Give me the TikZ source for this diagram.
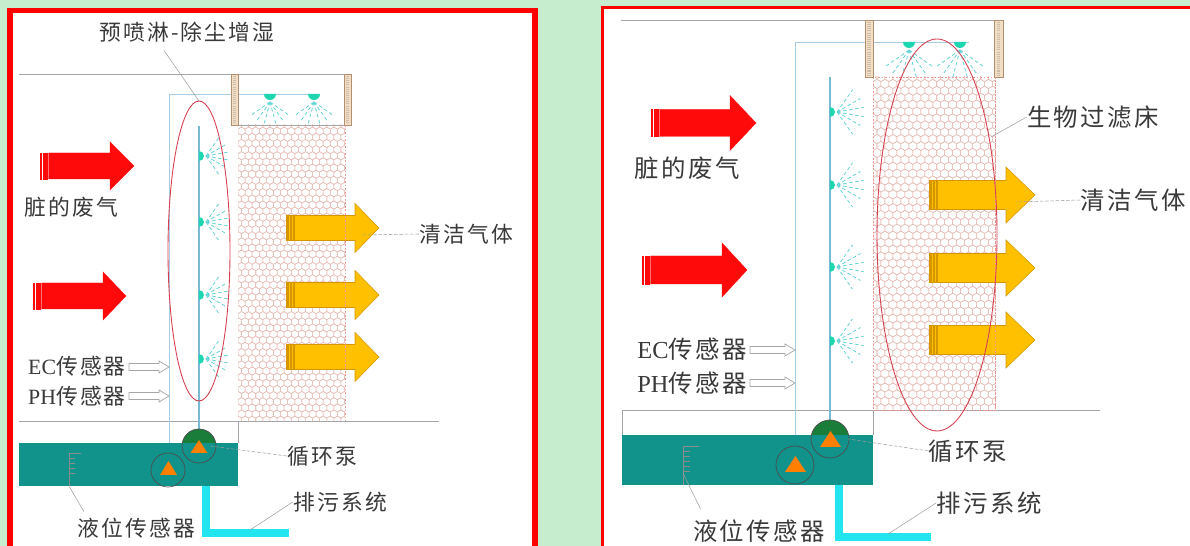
\documentclass[tikz,border=0pt]{standalone}
\usepackage{fontspec}
\setmainfont{Liberation Serif}
\newfontfamily\cjk{Noto Sans CJK SC}[LetterSpace=10]
\usepackage{xcolor}
\usepackage{tikz}
\usetikzlibrary{arrows.meta, positioning, calc}

\definecolor{pagegreen}{RGB}{198, 238, 206}
\definecolor{framered}{RGB}{255, 0, 0}
\definecolor{wallgray}{RGB}{165, 165, 165}
\definecolor{ductblue}{RGB}{170, 204, 226}
\definecolor{pipeblue}{RGB}{120, 186, 214}
\definecolor{nozzleteal}{RGB}{30, 214, 176}
\definecolor{spraycyan}{RGB}{100, 210, 214}
\definecolor{tankteal}{RGB}{17, 146, 138}
\definecolor{draincyan}{RGB}{34, 229, 240}
\definecolor{pumpgreen}{RGB}{27, 125, 58}
\definecolor{pumporange}{RGB}{255, 128, 0}
\definecolor{dirtyred}{RGB}{255, 10, 10}
\definecolor{cleanyellow}{RGB}{255, 192, 0}
\definecolor{cleanedge}{RGB}{214, 150, 0}
\definecolor{cellpink}{RGB}{232, 190, 182}
\definecolor{postbeige}{RGB}{242, 222, 196}
\definecolor{postbrown}{RGB}{176, 144, 112}
\definecolor{ringred}{RGB}{214, 64, 80}
\definecolor{labelgray}{RGB}{58, 58, 58}

\tikzset{
  lbl/.style={text=labelgray, inner sep=0pt, font=\cjk\fontsize{12.4}{14}\selectfont},
  lblbig/.style={text=labelgray, inner sep=0pt, font=\cjk\fontsize{13.9}{16}\selectfont},
  leader/.style={draw=gray!75, line width=0.3pt},
  leaderdash/.style={leader, dash pattern=on 2pt off 1pt},
  wall/.style={draw=wallgray, line width=0.5pt},
  duct/.style={draw=ductblue, line width=0.5pt},
  pipe/.style={draw=pipeblue, line width=0.8pt},
  spray/.style={draw=spraycyan, line width=0.45pt, dash pattern=on 2pt off 1.5pt},
  nozzle/.style={fill=nozzleteal},
  cellline/.style={draw=cellpink, line width=0.3pt},
  bededge/.style={draw=cellpink!80!red, line width=0.3pt, dash pattern=on 1pt off 1pt},
  post/.style={fill=postbeige, draw=postbrown, line width=0.4pt},
  postdots/.style={draw=postbrown!60, line width=0.07cm, dash pattern=on 0.6pt off 0.6pt},
  ring/.style={draw=ringred, line width=0.5pt},
  tank/.style={fill=tankteal},
  drain/.style={draw=draincyan, line width=0.15cm},
  pumpball/.style={circle, fill=pumpgreen, inner sep=0pt},
  pumpring/.style={draw=black!70, line width=0.4pt},
  pumptri/.style={fill=pumporange},
  gauge/.style={draw=black!45, line width=0.4pt},
  dirtygas/.style={fill=dirtyred, draw=dirtyred, line width=0.2pt},
  cleangas/.style={fill=cleanyellow, draw=cleanedge, line width=0.3pt},
  probe/.style={draw=gray!70, fill=white, line width=0.4pt}
}

% fat gas arrow: style, tail x, neck x, tip x, mid y, half body, half head
\newcommand{\gasarrow}[7]{%
  \foreach \k in {0,1,2}{
    \filldraw[#1] ({#2+\k*2.7},{#5-#6}) rectangle ++(1.6,{2*#6});
  }
  \filldraw[#1] ({#2+8.5},{#5-#6}) -- (#3,{#5-#6}) -- (#3,{#5-#7}) -- (#4,#5)
    -- (#3,{#5+#7}) -- (#3,{#5+#6}) -- ({#2+8.5},{#5+#6}) -- cycle;
}

% hollow sensor arrow: tail x, tip x, mid y
\newcommand{\probearrow}[3]{%
  \filldraw[probe] (#1,{#3-3.5}) -- ({#2-10},{#3-3.5}) -- ({#2-10},{#3-6}) -- (#2,#3)
    -- ({#2-10},{#3+6}) -- ({#2-10},{#3+3.5}) -- (#1,{#3+3.5}) -- cycle;
}

% honeycomb packing: left, top, right, bottom, cell radius
\newcommand{\honeycomb}[5]{%
  \begin{scope}
    \clip (#1,#2) rectangle (#3,#4);
    \pgfmathsetmacro{\cellw}{sqrt(3)*#5}
    \pgfmathsetmacro{\cellh}{1.5*#5}
    \pgfmathtruncatemacro{\ncol}{(#3-#1)/\cellw+1}
    \pgfmathtruncatemacro{\nrow}{(#4-#2)/\cellh+1}
    \foreach \j in {0,...,\nrow}{
      \foreach \i in {0,...,\ncol}{
        \pgfmathsetmacro{\cellx}{#1+\i*\cellw+mod(\j,2)*\cellw/2}
        \pgfmathsetmacro{\celly}{#2+\j*\cellh}
        \draw[cellline] (\cellx,\celly) +(30:#5) -- +(90:#5) -- +(150:#5)
          -- +(210:#5) -- +(270:#5) -- +(330:#5) -- cycle;
      }
    }
  \end{scope}
}

% nozzle on the riser, spraying sideways: x, y, spray length
\newcommand{\sidenozzle}[3]{%
  \foreach \a in {55,30,10,-10,-30,-55}{
    \draw[spray] ({#1+7},#2) -- ++(\a:#3);
  }
  \fill[nozzle] (#1,{#2-5}) arc[start angle=-90, end angle=90, radius=5] -- cycle;
}
% nozzle under the roof, spraying down: x, y, spray length
\newcommand{\topnozzle}[3]{%
  \foreach \a in {35,55,75,105,125,145}{
    \draw[spray] (#1,{#2+8}) -- ++(\a:#3);
  }
  \fill[nozzle] ({#1-6},#2) arc[start angle=180, end angle=0, radius=6] -- cycle;
}

\begin{document}
\begin{tikzpicture}[x=0.02cm, y=-0.02cm]
  \useasboundingbox (0,0) rectangle (1190,546);
  \fill[pagegreen] (0,0) rectangle (1190,546);

  % ---------- left panel: pre-spray stage ----------
  \draw[framered, line width=0.11cm, fill=white] (10,10.7) rectangle (535,600);

  % housing and ground
  \draw[wall] (19,74) -- (351,74);
  \draw[wall] (19,421) -- (439,421);
  \draw[duct] (169,443) -- (169,94) -- (320,94);

  % packing bed
  \honeycomb{238}{125}{345}{421}{4.1}
  \draw[wall] (238,125) -- (344,125);
  \draw[wall] (238,421) -- (238,443);

  % roof posts
  \filldraw[post] (231,74) rectangle (238,125);
  \filldraw[post] (344,74) rectangle (351,125);
  \draw[postdots] (234.5,76) -- (234.5,123);
  \draw[postdots] (347.5,76) -- (347.5,123);

  % riser and nozzles
  \draw[pipe] (199,126) -- (199,429);
  \foreach \y in {156,222,295,359}{
    \sidenozzle{199}{\y}{24}
  }
  \topnozzle{270}{94}{24}
  \topnozzle{314}{94}{24}

  % gas flow
  \gasarrow{dirtygas}{40}{110}{134}{166}{13}{24}
  \gasarrow{dirtygas}{33}{103}{126}{296}{13}{24}
  \foreach \y in {228,295,357}{
    \gasarrow{cleangas}{286}{355}{379}{\y}{12.5}{24.5}
  }
  \draw[bededge] (345,125) -- (345,421);

  % spray zone
  \draw[ring] (199,251) ellipse [x radius=31, y radius=150];
  \coordinate (preTip) at (199,101);

  % sump with pumps
  \node[pumpball, minimum size=0.68cm] (pumpA) at (199,446) {};
  \fill[tank] (19,443) rectangle (238,486);
  \draw[pumpring] (pumpA.center) circle (17);
  \fill[pumptri] (190.5,453) -- (199,440) -- (207.5,453) -- cycle;
  \coordinate (pumpB) at (168,470);
  \draw[pumpring] (pumpB) circle (17);
  \fill[pumptri] (160,475) -- (168.5,461) -- (177,475) -- cycle;

  % drain
  \draw[drain] (206,486) -- (206,533) -- (289,533);
  \coordinate (drainA) at (250,530);

  % level gauge
  \draw[gauge] (69,453) -- (69,486);
  \draw[gauge] (69,453) -- (81,453);
  \foreach \y in {458,463,468,473}{
    \draw[gauge] (69,\y) -- (75,\y);
  }
  \coordinate (gaugeA) at (69,486);

  % sensor probes
  \probearrow{129}{169}{367}
  \probearrow{129}{169}{396}

  % labels
  \node[lbl] (preLbl) at (187,32) {预喷淋-除尘增湿};
  \node[lbl] (dirtyA) at (71,207) {脏的废气};
  \node[lbl] (cleanA) at (466,234) {清洁气体};
  \node[lbl] (ecA) at (77,366) {{\rmfamily EC}传感器};
  \node[lbl] (phA) at (77,396) {{\rmfamily PH}传感器};
  \node[lbl] (pumpLblA) at (322,456) {循环泵};
  \node[lbl] (drainLblA) at (340,502) {排污系统};
  \node[lbl] (levelLblA) at (136,528) {液位传感器};

  \coordinate (cleanTipA) at (362,235);
  \draw[leader] ($(preLbl.south)+(-23,8)$) -- (preTip);
  \draw[leaderdash] (cleanA.west) -- (cleanTipA);
  \draw[leaderdash] (pumpLblA.west) -- ([xshift=-0.12cm]pumpA.east);
  \draw[leader] (drainLblA.west) -- (drainA);
  \draw[leader] (gaugeA) -- ([xshift=0.14cm, yshift=0.12cm]levelLblA.north west);

  % ---------- right panel: biofilter stage ----------
  \draw[framered, line width=0.06cm, fill=white] (602.5,7.2) rectangle (1250,600);

  % housing and ground
  \draw[wall] (621,20) -- (1003,20);
  \draw[wall] (622,410) -- (1100,410);
  \draw[duct] (795,435) -- (795,42) -- (969,42);

  % packing bed
  \honeycomb{873}{77}{995}{410}{4.6}
  \draw[bededge] (873,77) rectangle (995,410);

  % roof posts
  \filldraw[post] (865,20) rectangle (873,77);
  \filldraw[post] (994,20) rectangle (1003,77);
  \draw[postdots] (869,22) -- (869,75);
  \draw[postdots] (998.5,22) -- (998.5,75);

  % riser and nozzles
  \draw[pipe] (830,77) -- (830,420);
  \foreach \y in {112,185,267,341}{
    \sidenozzle{830}{\y}{27}
  }
  \topnozzle{909}{42}{28}
  \topnozzle{960}{42}{28}

  % gas flow
  \gasarrow{dirtygas}{651}{730}{756}{123}{13.5}{27.5}
  \gasarrow{dirtygas}{642}{722}{747}{270}{14}{27}
  \foreach \y in {195,268,340}{
    \gasarrow{cleangas}{929}{1006}{1035}{\y}{14.5}{28}
  }
  \draw[bededge] (995,77) -- (995,410);

  % bed zone
  \draw[ring] (937,235) ellipse [x radius=60, y radius=196];
  \coordinate (bedTip) at (991,137);

  % sump with pumps
  \draw[wall] (622,410) -- (622,435);
  \draw[wall] (873,410) -- (873,435);
  \node[pumpball, minimum size=0.76cm] (pumpC) at (830,439) {};
  \fill[tank] (622,435) rectangle (873,485);
  \draw[pumpring] (pumpC.center) circle (19);
  \fill[pumptri] (820,447) -- (830.5,431) -- (841,447) -- cycle;
  \coordinate (pumpD) at (795,465);
  \draw[pumpring] (pumpD) circle (19);
  \fill[pumptri] (785,472) -- (795.5,456) -- (806,472) -- cycle;

  % drain
  \draw[drain] (839,485) -- (839,537) -- (931,537);
  \coordinate (drainB) at (888,534);

  % level gauge
  \draw[gauge] (683,446) -- (683,485);
  \draw[gauge] (683,446) -- (699,446);
  \foreach \y in {451,456,461,466,471}{
    \draw[gauge] (683,\y) -- (690,\y);
  }
  \coordinate (gaugeB) at (683,473);

  % sensor probes
  \probearrow{750}{795}{350}
  \probearrow{750}{795}{383}

  % labels
  \node[lblbig] (bedLbl) at (1093,117) {生物过滤床};
  \node[lblbig] (dirtyB) at (687,168) {脏的废气};
  \node[lblbig] (cleanB) at (1133,200) {清洁气体};
  \node[lblbig] (ecB) at (692,349) {{\rmfamily EC}传感器};
  \node[lblbig] (phB) at (692,383) {{\rmfamily PH}传感器};
  \node[lblbig] (pumpLblB) at (968,451) {循环泵};
  \node[lblbig] (drainLblB) at (989,503) {排污系统};
  \node[lblbig] (levelLblB) at (759,531) {液位传感器};

  \coordinate (cleanTipB) at (1016,202);
  \draw[leader] (bedLbl.west) -- (bedTip);
  \draw[leaderdash] (cleanB.west) -- (cleanTipB);
  \draw[leaderdash] (pumpLblB.west) -- ([xshift=-0.02cm]pumpC.east);
  \draw[leader] (drainLblB.west) -- (drainB);
  \draw[leader] (gaugeB) -- ([xshift=0.16cm, yshift=0.2cm]levelLblB.north west);
\end{tikzpicture}
\end{document}
